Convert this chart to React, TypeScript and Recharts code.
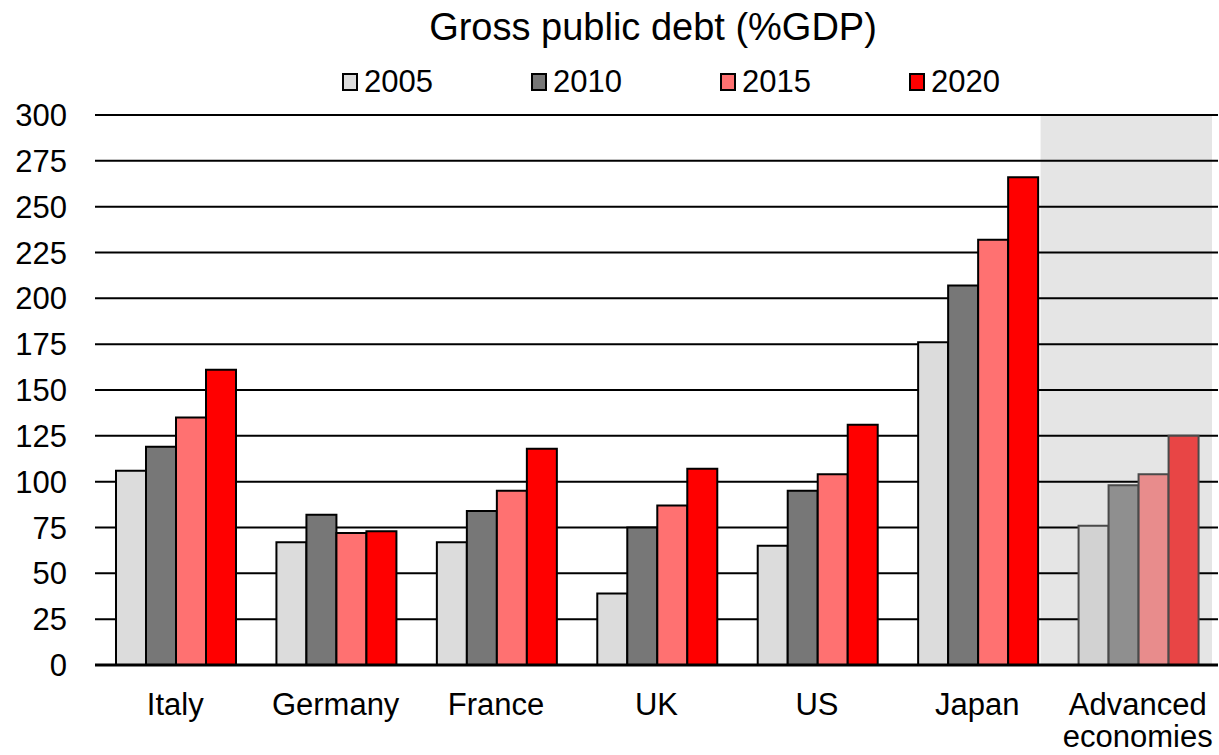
import { BarChart, Bar, XAxis, YAxis, CartesianGrid, Legend, ReferenceArea, Cell } from 'recharts';

const categories = ['Italy', 'Germany', 'France', 'UK', 'US', 'Japan', 'Advanced economies'];
const debt2005 = [106, 67, 67, 39, 65, 176, 76];
const debt2010 = [119, 82, 84, 75, 95, 207, 98];
const debt2015 = [135, 72, 95, 87, 104, 232, 104];
const debt2020 = [161, 73, 118, 107, 131, 266, 125];
const yTicks = [0, 25, 50, 75, 100, 125, 150, 175, 200, 225, 250, 275, 300];

const SHADED = 'Advanced economies';
const FONT = "'Liberation Sans', Arial, sans-serif";

const series = [
  { key: 'y2005', name: '2005', fill: '#dcdcdc', shadedFill: '#d2d2d2' },
  { key: 'y2010', name: '2010', fill: '#777777', shadedFill: '#8f8f8f' },
  { key: 'y2015', name: '2015', fill: '#ff7171', shadedFill: '#e88c8c' },
  { key: 'y2020', name: '2020', fill: '#ff0000', shadedFill: '#e84545' },
];

const data = categories.map((name, i) => ({
  name,
  y2005: debt2005[i],
  y2010: debt2010[i],
  y2015: debt2015[i],
  y2020: debt2020[i],
}));

function CategoryTick({ x, y, payload }: any) {
  const lines: string[] = payload.value.length > 10 ? payload.value.split(' ') : [payload.value];
  return (
    <text x={x} y={y} textAnchor="middle" fill="#000" fontSize={31} fontFamily={FONT}>
      {lines.map((line, i) => (
        <tspan key={i} x={x} dy={i === 0 ? 50 : 32}>
          {line}
        </tspan>
      ))}
    </text>
  );
}

function LegendContent() {
  return (
    <div style={{ display: 'flex', height: 35, fontFamily: FONT, fontSize: 31, color: '#000' }}>
      {series.map((s) => (
        <div key={s.key} style={{ display: 'flex', alignItems: 'center', width: 189 }}>
          <span
            style={{
              display: 'inline-block',
              width: 12,
              height: 14,
              background: s.fill,
              border: '2px solid #000',
              marginRight: 6,
            }}
          />
          <span>{s.name}</span>
        </div>
      ))}
    </div>
  );
}

function ShadedBand(props: any) {
  const { x, y, width, height } = props;
  return <rect x={x - 17} y={y} width={width + 11} height={height} fill="#000" fillOpacity={0.1} />;
}

export default function App() {
  return (
    <div style={{ position: 'absolute', left: 0, top: 0, width: 1219, height: 755, background: '#fff' }}>
      <div
        style={{
          position: 'absolute',
          left: 428,
          top: 8,
          width: 450,
          textAlign: 'center',
          fontFamily: FONT,
          fontSize: 38,
          lineHeight: '38px',
          color: '#000',
          whiteSpace: 'nowrap',
        }}
      >
        Gross public debt (%GDP)
      </div>
      <BarChart
        width={1219}
        height={755}
        data={data}
        margin={{ top: 80, right: 1, bottom: 0, left: 0 }}
        barCategoryGap={21}
        barGap={0}
      >
        <CartesianGrid vertical={false} stroke="#000" strokeWidth={2} strokeOpacity={1} />
        <ReferenceArea x1={SHADED} x2={SHADED} y1={0} y2={300} shape={ShadedBand} ifOverflow="visible" />
        <XAxis
          dataKey="name"
          height={90}
          interval={0}
          tickLine={false}
          tickSize={0}
          tickMargin={0}
          axisLine={{ stroke: '#000', strokeWidth: 3 }}
          tick={<CategoryTick />}
        />
        <YAxis
          width={95}
          domain={[0, 300]}
          ticks={yTicks}
          interval={0}
          axisLine={false}
          tickLine={false}
          tickSize={0}
          tickMargin={28}
          tick={{ fill: '#000', fontSize: 31, fontFamily: FONT }}
        />
        <Legend
          verticalAlign="top"
          content={<LegendContent />}
          wrapperStyle={{ top: 64, left: 342, width: 760, height: 35 }}
        />
        {series.map((s) => (
          <Bar
            key={s.key}
            dataKey={s.key}
            name={s.name}
            fill={s.fill}
            stroke="#000"
            strokeWidth={2}
            isAnimationActive={false}
          >
            {data.map((d) => (
              <Cell
                key={d.name}
                fill={d.name === SHADED ? s.shadedFill : s.fill}
                stroke={d.name === SHADED ? '#4a4a4a' : '#000'}
              />
            ))}
          </Bar>
        ))}
      </BarChart>
    </div>
  );
}
